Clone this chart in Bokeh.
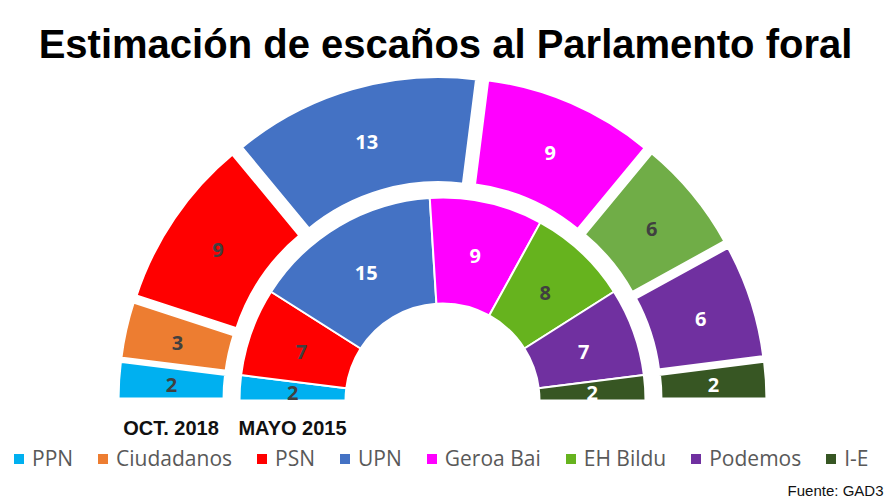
import numpy as np
from bokeh.plotting import figure
from bokeh.models import ColumnDataSource, Range1d, Legend, LegendItem
from bokeh.core.properties import value
from bokeh.embed import file_html
from bokeh.resources import INLINE

# ---------------- data ----------------
parties = ["PPN", "Ciudadanos", "PSN", "UPN", "Geroa Bai", "EH Bildu", "Podemos", "I-E"]
seats_2018 = [2, 3, 9, 13, 9, 6, 6, 2]
seats_2015 = [2, 0, 7, 15, 9, 8, 7, 2]
colors_2018 = ["#00B0F0", "#ED7D31", "#FF0000", "#4472C4", "#FF00FF", "#70AD47", "#7030A0", "#375623"]
colors_2015 = ["#00B0F0", "#ED7D31", "#FF0000", "#4472C4", "#FF00FF", "#66B31E", "#7030A0", "#375623"]
label_colors = ["#404040", "#404040", "#404040", "#FFFFFF", "#FFFFFF", "#404040", "#FFFFFF", "#FFFFFF"]
ring_names = ["OCT. 2018", "MAYO 2015"]
title_text = "Estimación de escaños al Parlamento foral"
source_text = "Fuente: GAD3"

# ---------------- geometry (styles) ----------------
OUTER_R = (203, 310)
INNER_R = (97, 203)
EXPLODE = 15


def ring(seats, colors, radii, explode):
    seats_arr = np.array(seats, dtype=float)
    total = seats_arr.sum()
    unit = np.pi / total
    cum = np.concatenate([[0.0], np.cumsum(seats_arr)])
    start = np.pi - cum[1:] * unit
    end = np.pi - cum[:-1] * unit
    mid = (start + end) / 2
    # parties without seats get no wedge (NaN angles are skipped)
    start = np.where(seats_arr > 0, start, np.nan)
    end = np.where(seats_arr > 0, end, np.nan)
    cx = explode * np.cos(mid)
    cy = explode * np.sin(mid)
    rmid = explode + (radii[0] + radii[1]) / 2
    wedges = ColumnDataSource(dict(x=cx, y=cy, start=start, end=end, color=colors,
                                   party=parties, seats=seats))
    keep = [i for i, s in enumerate(seats) if s > 0]
    labels = ColumnDataSource(dict(
        x=[rmid * np.cos(mid[i]) for i in keep],
        y=[rmid * np.sin(mid[i]) for i in keep],
        text=[str(seats[i]) for i in keep],
        color=[label_colors[i] for i in keep],
    ))
    return wedges, labels, rmid


p = figure(width=890, height=500, x_range=Range1d(-442, 448), y_range=Range1d(-100, 400),
           output_backend="svg", toolbar_location=None, min_border=0,
           x_axis_location=None, y_axis_location=None, outline_line_color=None,
           background_fill_color="white", border_fill_color="white")
p.grid.visible = False

out_src, out_lab, out_mid = ring(seats_2018, colors_2018, OUTER_R, EXPLODE)
in_src, in_lab, in_mid = ring(seats_2015, colors_2015, INNER_R, 0)

p.annular_wedge(x="x", y="y", inner_radius=OUTER_R[0], outer_radius=OUTER_R[1],
                start_angle="start", end_angle="end", fill_color="color",
                line_color="white", line_width=4, source=out_src)
inner_r = p.annular_wedge(x="x", y="y", inner_radius=INNER_R[0], outer_radius=INNER_R[1],
                          start_angle="start", end_angle="end", fill_color="color",
                          line_color="white", line_width=2, source=in_src)

for lab in (out_lab, in_lab):
    p.text(x="x", y="y", text="text", text_color="color", source=lab,
           text_font=value("Open Sans"), text_font_style="bold", text_font_size="20px",
           text_align="center", text_baseline="middle", y_offset=2)

# cover below the base line
p.quad(left=p.x_range.start, right=p.x_range.end, top=0, bottom=p.y_range.start,
       fill_color="white", line_color=None)

# ring captions
p.text(x=[-out_mid, -in_mid], y=[0, 0], text=ring_names, y_offset=27,
       text_font=value("Liberation Sans"), text_font_style="bold", text_font_size="20px",
       text_color="#111111", text_align="center", text_baseline="alphabetic")

# title
p.text(x=[(p.x_range.start + p.x_range.end) / 2], y=[p.y_range.end], text=[title_text],
       y_offset=43, text_font=value("Liberation Sans"), text_font_style="bold",
       text_font_size="40px", text_color="#000000", text_align="center",
       text_baseline="alphabetic")

# source note
p.text(x=[p.x_range.end], y=[p.y_range.start], text=[source_text], x_offset=-7, y_offset=-10,
       text_font=value("Liberation Sans"), text_font_size="15px", text_color="#111111",
       text_align="right", text_baseline="alphabetic")

legend = Legend(items=[LegendItem(label=name, renderers=[inner_r], index=i)
                       for i, name in enumerate(parties)],
                orientation="horizontal", location=(11, 28),
                glyph_width=15, glyph_height=15, label_standoff=6, spacing=22,
                padding=0, margin=0, border_line_color=None, background_fill_alpha=0,
                label_text_font="Open Sans", label_text_font_size="21px",
                label_text_color="#595959")
p.add_layout(legend, "center")

open("out.html", "w").write(file_html(p, INLINE))
